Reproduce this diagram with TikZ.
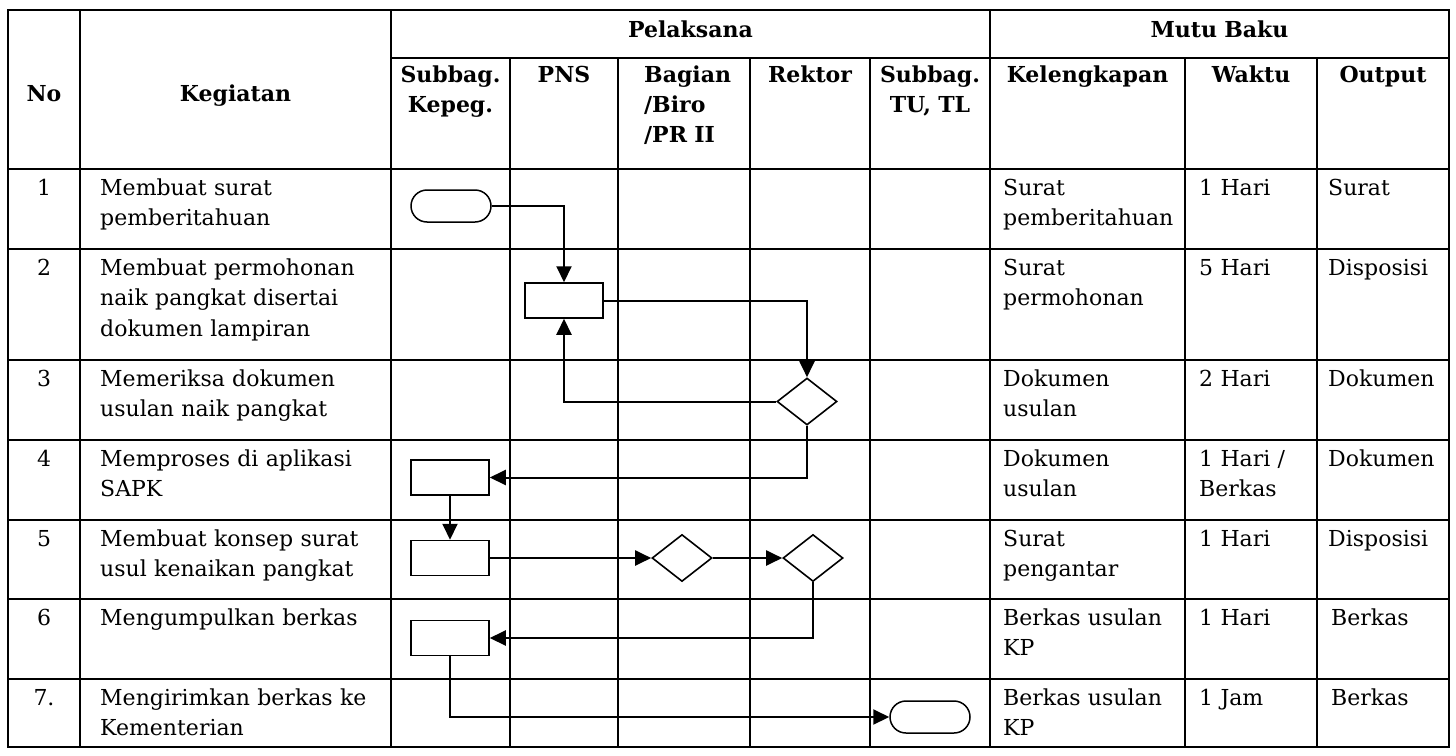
\documentclass[tikz,border=0pt]{standalone}
\usepackage{fontspec}
\setmainfont{DejaVu Serif}
\usepackage{tikz}
\usetikzlibrary{arrows.meta, shapes.geometric}
\tikzset{
>={Triangle[length=16pt,width=15pt]},
  grid/.style={draw=black, line width=2pt},
  terminal/.style={
    rectangle,
    rounded corners=16pt,
    draw=black, line width=1.5pt,
    minimum width=80pt,
    minimum height=32pt,
    inner sep=0pt},
  proses/.style={
    rectangle,
    draw=black, line width=1.5pt,
    minimum width=78pt,
    minimum height=35pt,
    inner sep=0pt},
  keputusan/.style={
    diamond,
    draw=black, line width=1.6pt,
    minimum width=60pt,
    minimum height=47pt,
    inner sep=0pt},
  line/.style={draw, line width=2pt, ->},
  judul/.style={
    anchor=base,
    inner sep=0pt,
    text width=180pt,
    align=center,
    font=\bfseries\fontsize{22}{30}\selectfont},
  isi/.style={
    anchor=base west,
    inner sep=0pt,
    text width=#1,
    align=left,
    font=\fontsize{22}{30.7}\selectfont},
  isi/.default=280pt,
  nomor/.style={
    anchor=base,
    inner sep=0pt,
    font=\fontsize{22}{30.7}\selectfont},
}

\begin{document}
\begin{tikzpicture}[x=1pt, y=-1pt]
     \useasboundingbox (0,0) rectangle (1456,755);
     % tabel
     \draw[grid] (8,10) rectangle (1449,747);
     \draw[grid] (391,58) -- (1449,58);
     \foreach \y in {169,249,360,440,520,599,679} \draw[grid] (8,\y) -- (1449,\y);
     \foreach \x in {80,391,990} \draw[grid] (\x,10) -- (\x,747);
     \foreach \x in {510,618,750,870,1185,1317} \draw[grid] (\x,58) -- (\x,747);

     \node[judul] (HNo)        at (44,101)    {No};
     \node[judul] (HKegiatan)  at (235.5,101) {Kegiatan};
     \node[judul] (HPelaksana) at (690.5,37)  {Pelaksana};
     \node[judul] (HMutuBaku)  at (1219.5,37) {Mutu Baku};
     \node[judul] (HKepeg)     at (450.5,82)  {Subbag.\\Kepeg.};
     \node[judul] (HPns)       at (564,82)    {PNS};
     \node[judul, anchor=base west, text width=90pt, align=left] (HBiro) at (644,82) {Bagian\\/Biro\\/PR II};
     \node[judul] (HRektor)    at (810,82)    {Rektor};
     \node[judul] (HTu)        at (930,82)    {Subbag.\\TU, TL};
     \node[judul] (HKelengkapan) at (1087.5,82) {Kelengkapan};
     \node[judul] (HWaktu)     at (1251,82)   {Waktu};
     \node[judul] (HOutput)    at (1383,82)   {Output};

     \node[nomor] (No1) at (44,195) {1};
     \node[isi] (Keg1) at (100,195) {Membuat surat\\pemberitahuan};
     \node[isi=180pt] (Kel1) at (1003,195) {Surat\\pemberitahuan};
     \node[isi=120pt] (Waktu1) at (1199,195) {1 Hari};
     \node[isi=120pt] (Output1) at (1328,195) {Surat};

     \node[nomor] (No2) at (44,275) {2};
     \node[isi] (Keg2) at (100,275) {Membuat permohonan\\naik pangkat disertai\\dokumen lampiran};
     \node[isi=180pt] (Kel2) at (1003,275) {Surat\\permohonan};
     \node[isi=120pt] (Waktu2) at (1199,275) {5 Hari};
     \node[isi=120pt] (Output2) at (1328,275) {Disposisi};

     \node[nomor] (No3) at (44,386) {3};
     \node[isi] (Keg3) at (100,386) {Memeriksa dokumen\\usulan naik pangkat};
     \node[isi=180pt] (Kel3) at (1003,386) {Dokumen\\usulan};
     \node[isi=120pt] (Waktu3) at (1199,386) {2 Hari};
     \node[isi=120pt] (Output3) at (1328,386) {Dokumen};

     \node[nomor] (No4) at (44,466) {4};
     \node[isi] (Keg4) at (100,466) {Memproses di aplikasi\\SAPK};
     \node[isi=180pt] (Kel4) at (1003,466) {Dokumen\\usulan};
     \node[isi=120pt] (Waktu4) at (1199,466) {1 Hari /\\Berkas};
     \node[isi=120pt] (Output4) at (1328,466) {Dokumen};

     \node[nomor] (No5) at (44,546) {5};
     \node[isi] (Keg5) at (100,546) {Membuat konsep surat\\usul kenaikan pangkat};
     \node[isi=180pt] (Kel5) at (1003,546) {Surat\\pengantar};
     \node[isi=120pt] (Waktu5) at (1199,546) {1 Hari};
     \node[isi=120pt] (Output5) at (1328,546) {Disposisi};

     \node[nomor] (No6) at (44,625) {6};
     \node[isi] (Keg6) at (100,625) {Mengumpulkan berkas};
     \node[isi=180pt] (Kel6) at (1003,625) {Berkas usulan\\KP};
     \node[isi=120pt] (Waktu6) at (1199,625) {1 Hari};
     \node[isi=120pt] (Output6) at (1331,625) {Berkas};

     \node[nomor] (No7) at (44,705) {7.};
     \node[isi] (Keg7) at (100,705) {Mengirimkan berkas ke\\Kementerian};
     \node[isi=180pt] (Kel7) at (1003,705) {Berkas usulan\\KP};
     \node[isi=120pt] (Waktu7) at (1199,705) {1 Jam};
     \node[isi=120pt] (Output7) at (1331,705) {Berkas};

     % alur
     \node[terminal]  (Mulai)      at (451,206)   {};
     \node[proses]    (Permohonan) at (564,300.5) {};
     \node[keputusan] (Periksa)    at (807,401.5) {};
     \node[proses]    (Sapk)       at (450,477.5) {};
     \node[proses]    (Konsep)     at (450,558)   {};
     \node[keputusan] (CekBiro)    at (682,558)   {};
     \node[keputusan] (CekRektor)  at (813,558)   {};
     \node[proses]    (Kumpul)     at (450,638)   {};
     \node[terminal]  (Selesai)    at (930,717)   {};

     \draw[line] (Mulai.east) -| (Permohonan.north);
     \draw[line] (Permohonan.east) -| (Periksa.north);
     \draw[line] (Periksa.west) -| (Permohonan.south);
     \draw[line] (Periksa.south) |- (Sapk.east);
     \draw[line] (Sapk) -- (Konsep);
     \draw[line] (Konsep) -- (CekBiro);
     \draw[line] (CekBiro) -- (CekRektor);
     \draw[line] (CekRektor.south) |- (Kumpul.east);
     \draw[line] (Kumpul.south) |- (Selesai.west);
\end{tikzpicture}
\end{document}
